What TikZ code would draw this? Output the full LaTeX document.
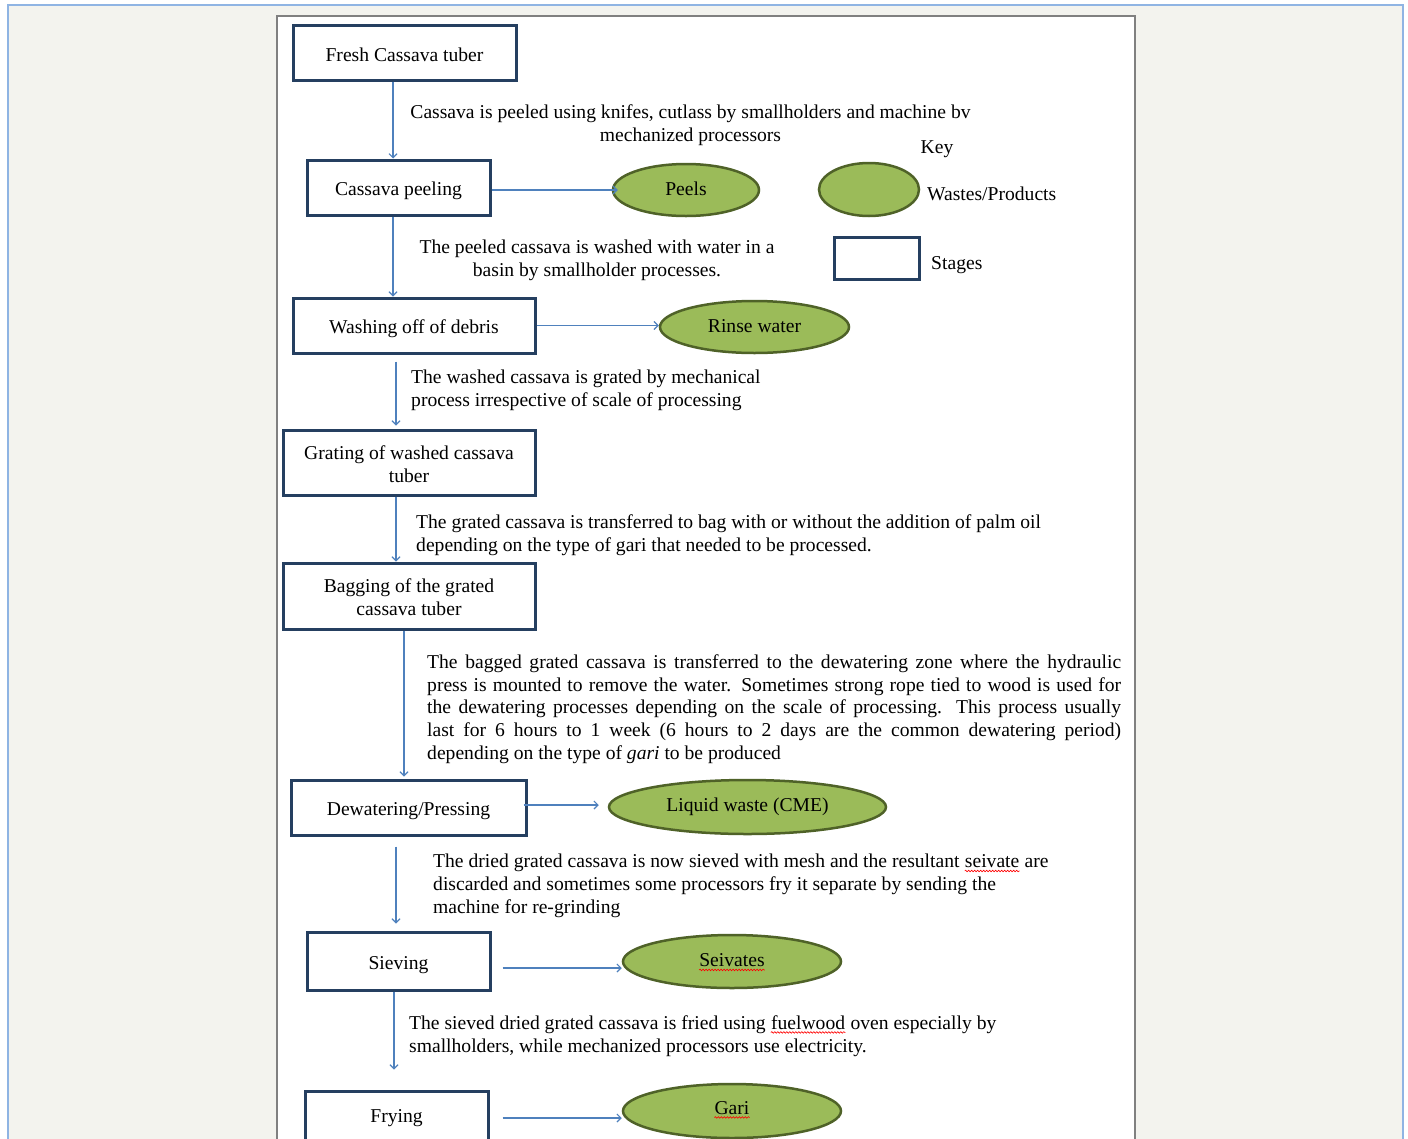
\documentclass[tikz,border=0pt]{standalone}
\usepackage{fontspec}
\setmainfont{Liberation Serif}
\usetikzlibrary{shapes.geometric,arrows.meta,decorations.pathmorphing}
\definecolor{bgcol}{RGB}{243,243,238}
\definecolor{framecol}{RGB}{143,180,227}
\definecolor{pagecol}{RGB}{128,128,128}
\definecolor{boxcol}{RGB}{37,63,96}
\definecolor{ellfill}{RGB}{155,187,89}
\definecolor{elldraw}{RGB}{79,98,40}
\definecolor{arrcol}{RGB}{79,129,189}
\newcommand{\redwave}[1]{\tikz[baseline=(w.base)]{\node[rectangle,minimum width=0pt,minimum height=0pt,inner sep=0pt,draw=none,fill=none] (w) {#1};
  \draw[red, line width=0.6pt, decorate, decoration={snake,amplitude=0.8pt,segment length=3pt}] ([yshift=-3pt]w.base west) -- ([yshift=-3pt]w.base east);}}
\newcommand{\shiftv}[2]{\raisebox{#1}[\height][\depth]{#2}}
\begin{document}
\begin{tikzpicture}[x=1pt,y=-1pt,
  every node/.style={font=\fontsize{19.6}{22.7}\selectfont, inner sep=0pt},
  stagebox/.style={draw=boxcol, line width=3pt, fill=white, rectangle, align=center},
  prodell/.style={draw=elldraw, line width=2.5pt, fill=ellfill, ellipse, inner sep=0pt},
  arr/.style={draw=arrcol, line width=1.1pt, -{Straight Barb[length=4pt,width=8pt]}},
  note/.style={align=left, anchor=west}]
\useasboundingbox (0,0) rectangle (1408,1138);
\fill[bgcol] (8,5) rectangle (1403,1140);
\draw[framecol, line width=1.2pt] (8,1140) -- (8,5) -- (1403,5) -- (1403,1140);
\draw[pagecol, line width=1.2pt, fill=white] (277,1140) -- (277,16) -- (1135,16) -- (1135,1140);

% stages
\node[stagebox, minimum width=223, minimum height=55] (fresh) at (404.5,52.5) {\shiftv{-2pt}{Fresh Cassava tuber}};
\node[stagebox, minimum width=183, minimum height=55] (peel) at (398.5,187.5) {\shiftv{-3pt}{Cassava peeling}};
\node[stagebox, minimum width=242, minimum height=55] (wash) at (414,325.5) {\shiftv{-3pt}{Washing off of debris}};
\node[stagebox, minimum width=252, minimum height=65] (grate) at (409,462.5) {\shiftv{-2pt}{Grating of washed cassava}\\\shiftv{-2pt}{tuber}};
\node[stagebox, minimum width=252, minimum height=66] (bag) at (409,596) {\shiftv{-1.5pt}{Bagging of the grated}\\\shiftv{-1.5pt}{cassava tuber}};
\node[stagebox, minimum width=235, minimum height=55] (dew) at (408.5,807.5) {\shiftv{-4pt}{Dewatering/Pressing}};
\node[stagebox, minimum width=183, minimum height=58] (sieve) at (398.5,961) {\shiftv{-4pt}{Sieving}};
\node[stagebox, minimum width=183, minimum height=56] (fry) at (396.5,1119) {\shiftv{1pt}{Frying}};

% products
\node[prodell, minimum width=146, minimum height=52] (peels) at (686,190) {\shiftv{1pt}{Peels}};
\node[prodell, minimum width=189, minimum height=52] (rinse) at (754.5,327) {\shiftv{1pt}{Rinse water}};
\node[prodell, minimum width=277, minimum height=54] (liquid) at (747.5,807) {Liquid waste (CME)};
\node[prodell, minimum width=218, minimum height=53] (seiv) at (732,961.5) {\shiftv{-1pt}{\redwave{Seivates}}};
\node[prodell, minimum width=218, minimum height=54] (gari) at (732,1111) {\shiftv{1pt}{\redwave{Gari}}};

% key
\node (keytitle) at (937,149) {Key};
\node[prodell, minimum width=100, minimum height=53] (keyell) at (869,189.5) {};
\node[anchor=west] (keyelltxt) at (927,194) {Wastes/Products};
\node[stagebox, minimum width=85, minimum height=42] (keybox) at (876.5,258) {};
\node[anchor=west] (keyboxtxt) at (931,265) {Stages};

% notes
\node[align=center] (t1) at (690.5,125.5) {Cassava is peeled using knifes, cutlass by smallholders and machine bv\\mechanized processors};
\node[align=center] (t2) at (597,260) {The peeled cassava is washed with water in a\\basin by smallholder processes.};
\node[note] (t3) at (411,390) {The washed cassava is grated by mechanical\\process irrespective of scale of processing};
\node[note] (t4) at (416,535.5) {The grated cassava is transferred to bag with or without the addition of palm oil\\depending on the type of gari that needed to be processed.};
\node[note] (t5) at (427,709) {%
\makebox[694pt][s]{The bagged grated cassava is transferred to the dewatering zone where the hydraulic}\\
\makebox[694pt][s]{press is mounted to remove the water. Sometimes strong rope tied to wood is used for}\\
\makebox[694pt][s]{the dewatering processes depending on the scale of processing. This process usually}\\
\makebox[694pt][s]{last for 6 hours to 1 week (6 hours to 2 days are the common dewatering period)}\\
depending on the type of \textit{gari} to be produced};
\node[note] (t6) at (433,886) {The dried grated cassava is now sieved with mesh and the resultant \redwave{seivate} are\\discarded and sometimes some processors fry it separate by sending the\\machine for re-grinding};
\node[note] (t7) at (409,1036) {The sieved dried grated cassava is fried using \redwave{fuelwood} oven especially by\\smallholders, while mechanized processors use electricity.};

% column coordinates
\coordinate (c1) at (393,0);
\coordinate (c2) at (396,0);
\coordinate (c3) at (404,0);
\coordinate (c4) at (394,0);
\coordinate (r1) at (0,968);
\coordinate (r2) at (0,1118);
\coordinate (r3) at (0,805);

% vertical flow
\draw[arr] (fresh.south -| c1) -- (peel.north -| c1);
\draw[arr] (peel.south -| c1) -- (wash.north -| c1);
\draw[arr, shorten <=7pt, shorten >=3pt] (wash.south -| c2) -- (grate.north -| c2);
\draw[arr] (grate.south -| c2) -- (bag.north -| c2);
\draw[arr, shorten >=2pt] (bag.south -| c3) -- (dew.north -| c3);
\draw[arr, shorten <=10pt, shorten >=7pt] (dew.south -| c2) -- (sieve.north -| c2);
\draw[arr, shorten >=20pt] (sieve.south -| c4) -- (fry.north -| c4);

% horizontal flow
\draw[arr, shorten >=-6pt] (peel.east |- peels.west) -- (peels.west);
\draw[arr] (wash.east) -- (wash.east -| rinse.west);
\draw[arr, shorten <=-4pt, shorten >=9pt] (dew.east |- r3) -- (liquid.west |- r3);
\draw[arr, shorten <=11pt] (sieve.east |- r1) -- (seiv.west |- r1);
\draw[arr, shorten <=13pt] (fry.east |- r2) -- (gari.west |- r2);
\end{tikzpicture}
\end{document}
